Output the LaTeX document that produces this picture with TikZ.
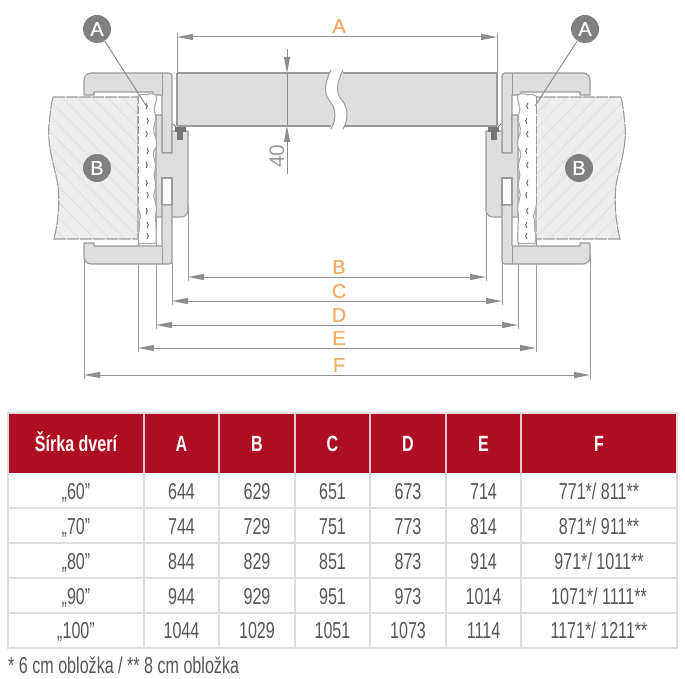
\documentclass[tikz,border=0pt]{standalone}
\usepackage{fontspec}
\setmainfont{Liberation Sans}
\newfontfamily\condfont[FakeStretch=0.70]{Liberation Sans}
\newfontfamily\headfont[FakeStretch=0.73]{Liberation Sans}
\newfontfamily\medfont[FakeBold=0.7]{Liberation Sans}
\usetikzlibrary{arrows.meta}
\definecolor{lineg}{HTML}{8E8E8E}
\definecolor{partg}{HTML}{9A9A9A}
\definecolor{frameg}{HTML}{DEDEDE}
\definecolor{wallg}{HTML}{EDEDED}
\definecolor{hatchg}{HTML}{DFDFDF}
\definecolor{darkg}{HTML}{757575}
\definecolor{discg}{HTML}{808080}
\definecolor{dimo}{HTML}{F3AE66}
\definecolor{headred}{HTML}{AE0D22}
\definecolor{gridg}{HTML}{DDDDDD}
\definecolor{txtg}{HTML}{55565A}
\tikzset{
  part/.style={draw=partg,line width=1.1pt,fill=frameg,line join=round},
  thinpart/.style={draw=partg,line width=1pt},
  extline/.style={draw=partg,line width=1pt},
  dimline/.style={draw=lineg,line width=1pt,{Triangle[length=16pt,width=6pt,fill=lineg]}-{Triangle[length=16pt,width=6pt,fill=lineg]}},
  oneside/.style={draw=lineg,line width=1pt,-{Triangle[length=16pt,width=6pt,fill=lineg]}},
  dimlabel/.style={text=dimo,font=\medfont\fontsize{20}{20}\selectfont,inner sep=0pt},
  disc/.style={circle,fill=discg,text=white,minimum size=28pt,inner sep=0pt,font=\medfont\fontsize{20}{20}\selectfont},
  leader/.style={draw=lineg,line width=1pt},
  cell/.style={anchor=base,text=txtg,inner sep=0pt,font=\condfont\fontsize{23}{23}\selectfont},
  headcell/.style={anchor=base,text=white,inner sep=0pt,font=\headfont\bfseries\fontsize{22}{22}\selectfont},
  grid/.style={draw=gridg,line width=1.2pt},
}
\newcommand{\halfdoor}{%
  % wall
  \def\wallpath{(53,97) -- (138,97) -- (138,239) -- (54,239)
     .. controls (58,222) and (60,205) .. (58,185)
     .. controls (54,165) and (47,145) .. (49,125)
     .. controls (50,115) and (51,105) .. (53,97) -- cycle}
  \fill[wallg] \wallpath;
  \begin{scope}
    \clip \wallpath;
    \foreach \i in {-140,-125,...,140} \draw[hatchg,line width=0.9pt] (\i,90) -- (\i+165,260);
  \end{scope}
  \draw[partg,line width=1.1pt,dash pattern=on 12pt off 1pt] \wallpath;
  % extension lines
  \draw[extline] (84,255) -- (84,379);
  \draw[extline] (138,239) -- (138,352);
  \draw[extline] (156,217) -- (156,329);
  \draw[extline] (172,262) -- (172,305);
  \draw[extline] (188,205) -- (188,281);
  % top trim with strip
  \draw[part,rounded corners=7pt] (84,95) -- (84,73) -- (130,73) [rounded corners=3pt] -- (172,73) [rounded corners=0pt] -- (172,153) -- (162,153) -- (162,95) -- (153,95) -- (153,92) -- (94,92) -- (94,95) -- cycle;
  \draw[thinpart] (162,73) -- (162,95);
  % body
  \draw[part,rounded corners=0pt] (156,115) -- (162,115) -- (162,153) -- (172,153) -- (172,131) -- (188,131)
     [rounded corners=7pt] -- (188,217) [rounded corners=0pt] -- (156,217) -- cycle;
  % lower slot
  \draw[thinpart,fill=white,line width=1.1pt] (162,178) rectangle (172,205);
  % bottom trim with strip
  \draw[part,rounded corners=0pt] (84,243) -- (94,243) -- (94,246) -- (162,246) -- (162,205) -- (172,205)
     [rounded corners=3pt] -- (172,264) [rounded corners=7pt] -- (84,264) [rounded corners=0pt] -- cycle;
  \draw[thinpart] (162,246) -- (162,264);
  % foam
  \fill[white] (138,96)
     .. controls (142,93) and (146,96) .. (149,94)
     .. controls (152,93) and (155,94) .. (156,95)
     .. controls (158,103) and (152,106) .. (155,113)
     .. controls (158,122) and (152,126) .. (154,133)
     .. controls (156,140) and (159,144) .. (154,151)
     .. controls (151,158) and (158,162) .. (155,170)
     .. controls (152,176) and (158,184) .. (155,190)
     .. controls (151,196) and (158,203) .. (156,212)
     .. controls (155,222) and (157,232) .. (156,243)
     .. controls (150,245) and (144,242) .. (139,244)
     .. controls (137,235) and (141,228) .. (139,220)
     .. controls (143,214) and (137,212) .. (138,205) -- (138,96);
  \draw[draw=partg!85,line width=1.1pt] (138,96)
     .. controls (142,93) and (146,96) .. (149,94)
     .. controls (152,93) and (155,94) .. (156,95)
     .. controls (158,103) and (152,106) .. (155,113)
     .. controls (158,122) and (152,126) .. (154,133)
     .. controls (156,140) and (159,144) .. (154,151)
     .. controls (151,158) and (158,162) .. (155,170)
     .. controls (152,176) and (158,184) .. (155,190)
     .. controls (151,196) and (158,203) .. (156,212)
     .. controls (155,222) and (157,232) .. (156,243)
     .. controls (150,245) and (144,242) .. (139,244)
     .. controls (137,235) and (141,228) .. (139,220)
     .. controls (143,214) and (137,212) .. (138,205);
  \draw[partg,line width=1pt,dash pattern=on 8pt off 2pt] (138,96) -- (138,205);
  \foreach \yy/\xx in {103/146,118/147,131/146,148/147,162/146,180/146,192/147,208/146,222/147,233/147}
    \draw[darkg,line width=1pt] (\xx,\yy) .. controls (\xx+1.8,\yy+2) and (\xx+1.8,\yy+4) .. (\xx,\yy+6);
  % hardware
  \fill[darkg] (175,127) rectangle (186,132);
  \fill[darkg] (177,131) rectangle (183,140);
  \draw[darkg,line width=1pt] (173,124) -- (177,128);
}
\begin{document}
\begin{tikzpicture}[x=1pt,y=-1pt]
\useasboundingbox (0,0) rectangle (685,679);
\fill[white] (0,0) rectangle (685,679);

% door leaf
\fill[frameg] (177,73) rectangle (497,126);
\draw[partg,line width=1.1pt] (177,73) -- (331,73) (177,126) -- (331,126) (343,73) -- (497,73) (343,126) -- (497,126) (177,73) -- (177,126) (497,73) -- (497,126);
\fill[white] (331,70) .. controls (324,84) and (324,94) .. (329,100) .. controls (336,108) and (337,118) .. (331,129)
 -- (343,129) .. controls (349,118) and (348,108) .. (342,100) .. controls (336,94) and (336,84) .. (343,70) -- cycle;
\draw[partg,line width=1pt] (331,70) .. controls (324,84) and (324,94) .. (329,100) .. controls (336,108) and (337,118) .. (331,129);
\draw[partg,line width=1pt] (343,70) .. controls (336,84) and (336,94) .. (342,100) .. controls (348,108) and (349,118) .. (343,129);

% left and right assemblies
\begin{scope}\halfdoor\end{scope}
\begin{scope}[xshift=674pt,xscale=-1]\halfdoor\end{scope}

% dimension end points
\coordinate (a1) at (177,37);  \coordinate (a2) at (497,37);
\coordinate (a1t) at (177,33); \coordinate (a2t) at (497,33);
\coordinate (a1b) at (177,73); \coordinate (a2b) at (497,73);
\coordinate (b1) at (188,277); \coordinate (b2) at (486,277);
\coordinate (c1) at (172,301); \coordinate (c2) at (502,301);
\coordinate (d1) at (156,325); \coordinate (d2) at (518,325);
\coordinate (e1) at (138,348); \coordinate (e2) at (536,348);
\coordinate (f1) at (84,375);  \coordinate (f2) at (590,375);
\coordinate (h1) at (287,49);  \coordinate (h1t) at (287,73);
\coordinate (h2) at (287,174); \coordinate (h2t) at (287,126);

\draw[extline] (a1t) -- (a1b);
\draw[extline] (a2t) -- (a2b);
\draw[dimline] (a1) -- (a2);
\draw[dimline] (b1) -- (b2);
\draw[dimline] (c1) -- (c2);
\draw[dimline] (d1) -- (d2);
\draw[dimline] (e1) -- (e2);
\draw[dimline] (f1) -- (f2);
\draw[oneside] (h1) -- (h1t);
\draw[oneside] (h2) -- (h2t);
\draw[lineg,line width=0.9pt] (h1t) -- (h2t);

\node[dimlabel] (la) at (339,26) {A};
\node[dimlabel] (lb) at (339,267) {B};
\node[dimlabel] (lc) at (339,291) {C};
\node[dimlabel] (ld) at (339,315) {D};
\node[dimlabel] (le) at (339,338) {E};
\node[dimlabel] (lf) at (339,365) {F};
\node[rotate=90,text=partg,inner sep=0pt,font=\fontsize{21}{21}\selectfont] (forty) at (277,156) {40};

% callouts
\node[disc] (ca1) at (97,29) {A};
\node[disc] (ca2) at (585,29) {A};
\node[disc] (cb1) at (97,168) {B};
\node[disc] (cb2) at (579,168) {B};
\coordinate (ta1) at (147,107);
\coordinate (ta2) at (535,106);
\draw[leader] (ca1) -- (ta1);
\draw[leader] (ca2) -- (ta2);

% table
\fill[headred] (8,413) rectangle (677,473);
\foreach \x in {144,219,295,370,446,521} {
  \draw[white!75!headred,line width=1.1pt] (\x,413) -- (\x,473);
  \draw[grid] (\x,473) -- (\x,648);
}
\foreach \y in {508,543,578,613,648} \draw[grid] (8,\y) -- (677,\y);
\draw[grid] (8,413) rectangle (677,648);

\foreach \x/\t/\n in {76/{Šírka dverí}/h0,181.5/A/h1c,257/B/h2c,332.5/C/h3c,408/D/h4c,483.5/E/h5c,599/F/h6c}
  \node[headcell] (\n) at (\x,451) {\t};

\foreach \y/\r/\va/\vb/\vc/\vd/\ve/\vf in {
  499.5/„60”/644/629/651/673/714/{771*/ 811**},
  534.5/„70”/744/729/751/773/814/{871*/ 911**},
  569/„80”/844/829/851/873/914/{971*/ 1011**},
  604/„90”/944/929/951/973/1014/{1071*/ 1111**},
  638.5/„100”/1044/1029/1051/1073/1114/{1171*/ 1211**}} {
  \node[cell] at (76,\y) {\r};
  \node[cell] at (181.5,\y) {\va};
  \node[cell] at (257,\y) {\vb};
  \node[cell] at (332.5,\y) {\vc};
  \node[cell] at (408,\y) {\vd};
  \node[cell] at (483.5,\y) {\ve};
  \node[cell] at (599,\y) {\vf};
}
\node[cell,anchor=base west] (note) at (8,673) {* 6 cm obložka / ** 8 cm obložka};
\end{tikzpicture}
\end{document}
